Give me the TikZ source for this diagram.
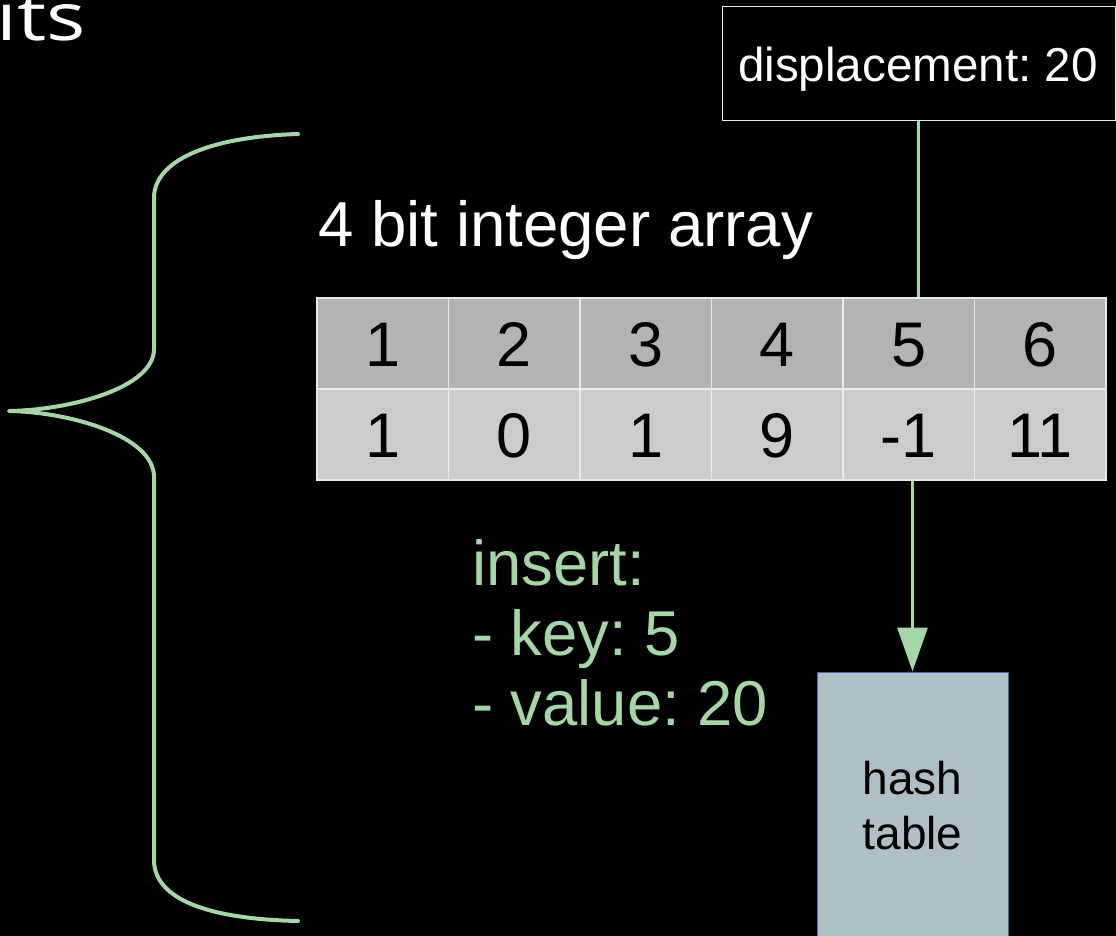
\documentclass[tikz,border=0pt]{standalone}
\usepackage{fontspec}
\setmainfont{Liberation Sans}
\newfontfamily\titlefont{Open Sans}
\usetikzlibrary{arrows.meta}
\definecolor{mint}{RGB}{164,214,166}
\definecolor{hdrgray}{RGB}{179,179,179}
\definecolor{valgray}{RGB}{204,204,204}
\definecolor{gridline}{RGB}{235,235,235}
\definecolor{hashfill}{RGB}{176,190,198}
\definecolor{hashedge}{RGB}{70,105,165}
\tikzset{
  cell/.style={minimum width=131.5pt, minimum height=91pt, inner sep=0pt,
    draw=gridline, line width=1.2pt, text=black,
    font=\fontsize{63}{63}\selectfont, text height=45pt, text depth=0pt},
  hdr/.style={cell, fill=hdrgray},
  val/.style={cell, fill=valgray},
  link/.style={draw=mint, line width=3pt},
  brace/.style={draw=mint, line width=4pt, line cap=round, line join=round},
}
\frenchspacing
\begin{document}
\begin{tikzpicture}[x=1pt, y=-1pt]
  \fill[black] (0,0) rectangle (1116,936);
  \useasboundingbox (0,0) rectangle (1116,936);

  % heading fragment in the upper left corner
  \node[anchor=base east, inner sep=0pt, text=white, xscale=1.25,
        font=\titlefont\fontsize{66}{66}\selectfont] (heading) at (86,41) {its};

  % curly brace on the left
  \draw[brace] (298,134) .. controls (205,137) and (154,162) .. (154,198)
    -- (154,349) .. controls (154,388) and (70,410) .. (9,411)
    .. controls (70,412) and (154,436) .. (154,477)
    -- (154,860) .. controls (154,898) and (205,919) .. (298,921);

  % caption
  \node[anchor=base west, inner sep=0pt, text=white,
        font=\fontsize{63.6}{70}\selectfont] (caption) at (318,246) {4 bit integer array};

  % array: indices (top row) and stored values (bottom row)
  \foreach \i/\v in {1/1, 2/0, 3/1, 4/9, 5/-1, 6/11} {
    \node[hdr] (h\i) at ({317+131.5*(\i-0.5)},343.5) {\i};
    \node[val] (v\i) at ({317+131.5*(\i-0.5)},434.5) {\v};
  }

  % displacement box
  \node[draw=gridline, line width=1pt, fill=black,
        minimum width=393pt, minimum height=114pt, inner sep=0pt] (disp) at (918.5,64) {};
  \node[anchor=base, inner sep=0pt, text=white,
        font=\fontsize{47.6}{50}\selectfont] (displabel) at (918,82) {displacement: 20};

  % hash table box
  \node[draw=hashedge, line width=1pt, fill=hashfill, text=black,
        minimum width=191pt, minimum height=268pt, inner sep=0pt, align=center,
        font=\fontsize{46}{55}\selectfont] (hash) at (912.5,806) {hash\\table};

  % connectors
  \draw[link] (disp.south) -- (disp.south |- h5.north);
  \draw[link, -{Triangle[length=44pt, width=30pt]}] (hash.north |- v5.south) -- (hash.north);

  % insert operation (anchored at the baseline of its last line)
  \node[anchor=base west, inner sep=0pt, text=mint, align=left,
        font=\fontsize{63.4}{70}\selectfont] (insert) at (472,725)
        {insert:\\- key: 5\\- value: 20};
\end{tikzpicture}
\end{document}
